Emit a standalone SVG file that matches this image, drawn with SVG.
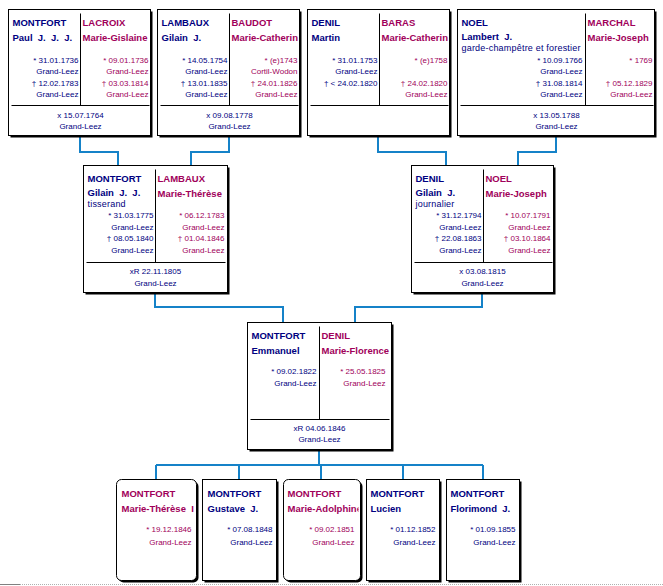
<svg xmlns="http://www.w3.org/2000/svg" width="663" height="586" viewBox="0 0 663 586">
<style>
.sh{fill:#000}
.bx{fill:#fff;stroke:#000;stroke-width:1}
.ln{stroke:#000;stroke-width:1;fill:none}
.m{fill:#000080}
.f{fill:#a0005a}
.n{font-family:"Liberation Sans",Arial,sans-serif;font-weight:bold;font-size:9.5px}
.o{font-family:"Liberation Sans",Arial,sans-serif;font-size:9px;letter-spacing:0.2px}
.d{font-family:"Liberation Sans",Arial,sans-serif;font-size:8px}
.r{text-anchor:end}
.c{text-anchor:middle}
.con{fill:none;stroke:#1582c8;stroke-width:2}
</style>
<defs>
<clipPath id="cl72"><rect x="0" y="0" width="71.5" height="127"/></clipPath>
<clipPath id="cr142"><rect x="72.5" y="0" width="68" height="127"/></clipPath>
<clipPath id="cr144"><rect x="72.5" y="0" width="70" height="127"/></clipPath>
<clipPath id="cl128"><rect x="0" y="0" width="127.5" height="127"/></clipPath>
<clipPath id="cr197"><rect x="128.5" y="0" width="67" height="127"/></clipPath>
<clipPath id="cc80"><rect x="0" y="0" width="78" height="101"/></clipPath>
<clipPath id="cc74"><rect x="0" y="0" width="72" height="101"/></clipPath>
<clipPath id="cc77"><rect x="0" y="0" width="75" height="101"/></clipPath>
<clipPath id="cc73"><rect x="0" y="0" width="71" height="101"/></clipPath>
</defs>

<g id="connectors">
<path class="con" d="M80,137 V152 H118 V165"/>
<path class="con" d="M229,137 V152 H191 V165"/>
<path class="con" d="M378,137 V152 H446 V165"/>
<path class="con" d="M556,137 V152 H518 V165"/>
<path class="con" d="M155,294 V307 H283 V322"/>
<path class="con" d="M482,294 V307 H355 V322"/>
<path class="con" d="M319,451 V465"/>
<path class="con" d="M156,465 H483"/>
<path class="con" d="M156,465 V479 M239,465 V479 M321,465 V479 M403,465 V479 M483,465 V479"/>
</g>

<g id="couple-montfort-lacroix" transform="translate(8.5,9.5)">
<rect class="sh" x="2" y="2" width="142" height="126"/>
<rect class="bx" x="0" y="0" width="142" height="126"/>
<line class="ln" x1="72" y1="4" x2="72" y2="96"/>
<line class="ln" x1="3" y1="96" x2="141" y2="96"/>
<g clip-path="url(#cl72)" class="m">
<text class="n" x="4" y="16.5">MONTFORT</text>
<text class="n" x="4" y="31">Paul&#160; J.&#160; J.&#160; J.</text>
<text class="d r" x="70" y="53">* 31.01.1736</text>
<text class="d r" x="70" y="64.5">Grand-Leez</text>
<text class="d r" x="70" y="76">† 12.02.1783</text>
<text class="d r" x="70" y="87.5">Grand-Leez</text>
</g>
<g clip-path="url(#cr142)" class="f">
<text class="n" x="74" y="16.5">LACROIX</text>
<text class="n" x="74" y="31">Marie-Gislaine</text>
<text class="d r" x="140" y="53">* 09.01.1736</text>
<text class="d r" x="140" y="64.5">Grand-Leez</text>
<text class="d r" x="140" y="76">† 03.03.1814</text>
<text class="d r" x="140" y="87.5">Grand-Leez</text>
</g>
<text class="d c m" x="72" y="108">x 15.07.1764</text>
<text class="d c m" x="72" y="119.5">Grand-Leez</text>
</g>

<g id="couple-lambaux-baudot" transform="translate(157.5,9.5)">
<rect class="sh" x="2" y="2" width="142" height="126"/>
<rect class="bx" x="0" y="0" width="142" height="126"/>
<line class="ln" x1="72" y1="4" x2="72" y2="96"/>
<line class="ln" x1="3" y1="96" x2="141" y2="96"/>
<g clip-path="url(#cl72)" class="m">
<text class="n" x="4" y="16.5">LAMBAUX</text>
<text class="n" x="4" y="31">Gilain&#160; J.</text>
<text class="d r" x="70" y="53">* 14.05.1754</text>
<text class="d r" x="70" y="64.5">Grand-Leez</text>
<text class="d r" x="70" y="76">† 13.01.1835</text>
<text class="d r" x="70" y="87.5">Grand-Leez</text>
</g>
<g clip-path="url(#cr142)" class="f">
<text class="n" x="74" y="16.5">BAUDOT</text>
<text class="n" x="74" y="31">Marie-Catherine</text>
<text class="d r" x="140" y="53">* (e)1743</text>
<text class="d r" x="140" y="64.5">Cortil-Wodon</text>
<text class="d r" x="140" y="76">† 24.01.1826</text>
<text class="d r" x="140" y="87.5">Grand-Leez</text>
</g>
<text class="d c m" x="72" y="108">x 09.08.1778</text>
<text class="d c m" x="72" y="119.5">Grand-Leez</text>
</g>

<g id="couple-denil-baras" transform="translate(307.5,9.5)">
<rect class="sh" x="2" y="2" width="142" height="126"/>
<rect class="bx" x="0" y="0" width="142" height="126"/>
<line class="ln" x1="72" y1="4" x2="72" y2="96"/>
<line class="ln" x1="3" y1="96" x2="141" y2="96"/>
<g clip-path="url(#cl72)" class="m">
<text class="n" x="4" y="16.5">DENIL</text>
<text class="n" x="4" y="31">Martin</text>
<text class="d r" x="70" y="53">* 31.01.1753</text>
<text class="d r" x="70" y="64.5">Grand-Leez</text>
<text class="d r" x="70" y="76">† &lt; 24.02.1820</text>
</g>
<g clip-path="url(#cr142)" class="f">
<text class="n" x="74" y="16.5">BARAS</text>
<text class="n" x="74" y="31">Marie-Catherine</text>
<text class="d r" x="140" y="53">* (e)1758</text>
<text class="d r" x="140" y="76">† 24.02.1820</text>
<text class="d r" x="140" y="87.5">Grand-Leez</text>
</g>
</g>

<g id="couple-noel-marchal" transform="translate(457.5,9.5)">
<rect class="sh" x="2" y="2" width="197" height="126"/>
<rect class="bx" x="0" y="0" width="197" height="126"/>
<line class="ln" x1="128" y1="4" x2="128" y2="96"/>
<line class="ln" x1="3" y1="96" x2="196" y2="96"/>
<g clip-path="url(#cl128)" class="m">
<text class="n" x="4" y="16.5">NOEL</text>
<text class="n" x="4" y="30.5">Lambert&#160; J.</text>
<text class="o" x="4" y="41">garde-champêtre et forestier</text>
<text class="d r" x="125" y="53">* 10.09.1766</text>
<text class="d r" x="125" y="64.5">Grand-Leez</text>
<text class="d r" x="125" y="76">† 31.08.1814</text>
<text class="d r" x="125" y="87.5">Grand-Leez</text>
</g>
<g clip-path="url(#cr197)" class="f">
<text class="n" x="130" y="16.5">MARCHAL</text>
<text class="n" x="130" y="31">Marie-Joseph</text>
<text class="d r" x="195" y="53">* 1769</text>
<text class="d r" x="195" y="76">† 05.12.1829</text>
<text class="d r" x="195" y="87.5">Grand-Leez</text>
</g>
<text class="d c m" x="99" y="108">x 13.05.1788</text>
<text class="d c m" x="99" y="119.5">Grand-Leez</text>
</g>

<g id="couple-montfort-lambaux" transform="translate(83.5,165.5)">
<rect class="sh" x="2" y="2" width="144" height="127"/>
<rect class="bx" x="0" y="0" width="144" height="127"/>
<line class="ln" x1="72" y1="4" x2="72" y2="97"/>
<line class="ln" x1="3" y1="97" x2="142" y2="97"/>
<g clip-path="url(#cl72)" class="m">
<text class="n" x="4" y="16.5">MONTFORT</text>
<text class="n" x="4" y="30.5">Gilain&#160; J.&#160; J.</text>
<text class="o" x="4" y="41">tisserand</text>
<text class="d r" x="70" y="52.5">* 31.03.1775</text>
<text class="d r" x="70" y="64">Grand-Leez</text>
<text class="d r" x="70" y="75.5">† 08.05.1840</text>
<text class="d r" x="70" y="87.5">Grand-Leez</text>
</g>
<g clip-path="url(#cr144)" class="f">
<text class="n" x="74" y="16.5">LAMBAUX</text>
<text class="n" x="74" y="31">Marie-Thérèse</text>
<text class="d r" x="141" y="52.5">* 06.12.1783</text>
<text class="d r" x="141" y="64">Grand-Leez</text>
<text class="d r" x="141" y="75.5">† 01.04.1846</text>
<text class="d r" x="141" y="87.5">Grand-Leez</text>
</g>
<text class="d c m" x="72" y="108">xR 22.11.1805</text>
<text class="d c m" x="72" y="120">Grand-Leez</text>
</g>

<g id="couple-denil-noel" transform="translate(411.5,165.5)">
<rect class="sh" x="2" y="2" width="142" height="127"/>
<rect class="bx" x="0" y="0" width="142" height="127"/>
<line class="ln" x1="72" y1="4" x2="72" y2="97"/>
<line class="ln" x1="3" y1="97" x2="141" y2="97"/>
<g clip-path="url(#cl72)" class="m">
<text class="n" x="4" y="16.5">DENIL</text>
<text class="n" x="4" y="30.5">Gilain&#160; J.</text>
<text class="o" x="4" y="41">journalier</text>
<text class="d r" x="70" y="52.5">* 31.12.1794</text>
<text class="d r" x="70" y="64">Grand-Leez</text>
<text class="d r" x="70" y="75.5">† 22.08.1863</text>
<text class="d r" x="70" y="87.5">Grand-Leez</text>
</g>
<g clip-path="url(#cr142)" class="f">
<text class="n" x="74" y="16.5">NOEL</text>
<text class="n" x="74" y="31">Marie-Joseph</text>
<text class="d r" x="139" y="52.5">* 10.07.1791</text>
<text class="d r" x="139" y="64">Grand-Leez</text>
<text class="d r" x="139" y="75.5">† 03.10.1864</text>
<text class="d r" x="139" y="87.5">Grand-Leez</text>
</g>
<text class="d c m" x="71" y="108">x 03.08.1815</text>
<text class="d c m" x="71" y="120">Grand-Leez</text>
</g>

<g id="couple-montfort-denil" transform="translate(247.5,322.5)">
<rect class="sh" x="2" y="2" width="144" height="127"/>
<rect class="bx" x="0" y="0" width="144" height="127"/>
<line class="ln" x1="72" y1="4" x2="72" y2="97"/>
<line class="ln" x1="3" y1="97" x2="142" y2="97"/>
<g clip-path="url(#cl72)" class="m">
<text class="n" x="4" y="16">MONTFORT</text>
<text class="n" x="4" y="31">Emmanuel</text>
<text class="d r" x="69" y="51.5">* 09.02.1822</text>
<text class="d r" x="69" y="63.5">Grand-Leez</text>
</g>
<g clip-path="url(#cr144)" class="f">
<text class="n" x="74" y="16">DENIL</text>
<text class="n" x="74" y="31">Marie-Florence</text>
<text class="d r" x="138" y="51.5">* 25.05.1825</text>
<text class="d r" x="138" y="63.5">Grand-Leez</text>
</g>
<text class="d c m" x="72" y="108">xR 04.06.1846</text>
<text class="d c m" x="72" y="119.5">Grand-Leez</text>
</g>

<g id="child-marie-therese" transform="translate(116.5,479.5)">
<rect class="sh" x="2" y="2" width="80" height="101" rx="5"/>
<rect class="bx" x="0" y="0" width="80" height="101" rx="5"/>
<g clip-path="url(#cc80)" class="f">
<text class="n" x="5" y="17">MONTFORT</text>
<text class="n" x="5" y="32">Marie-Thérèse&#160; I</text>
<text class="d r" x="75" y="52">* 19.12.1846</text>
<text class="d r" x="75" y="65">Grand-Leez</text>
</g>
</g>

<g id="child-gustave" transform="translate(202.5,479.5)">
<rect class="sh" x="2" y="2" width="74" height="101"/>
<rect class="bx" x="0" y="0" width="74" height="101"/>
<g clip-path="url(#cc74)" class="m">
<text class="n" x="5" y="17">MONTFORT</text>
<text class="n" x="5" y="32">Gustave&#160; J.</text>
<text class="d r" x="70" y="52">* 07.08.1848</text>
<text class="d r" x="70" y="65">Grand-Leez</text>
</g>
</g>

<g id="child-marie-adolphine" transform="translate(283.5,479.5)">
<rect class="sh" x="2" y="2" width="77" height="101" rx="5"/>
<rect class="bx" x="0" y="0" width="77" height="101" rx="5"/>
<g clip-path="url(#cc77)" class="f">
<text class="n" x="4" y="17">MONTFORT</text>
<text class="n" x="4" y="32">Marie-Adolphine</text>
<text class="d r" x="71" y="52">* 09.02.1851</text>
<text class="d r" x="71" y="65">Grand-Leez</text>
</g>
</g>

<g id="child-lucien" transform="translate(366.5,479.5)">
<rect class="sh" x="2" y="2" width="73" height="101"/>
<rect class="bx" x="0" y="0" width="73" height="101"/>
<g clip-path="url(#cc73)" class="m">
<text class="n" x="4" y="17">MONTFORT</text>
<text class="n" x="4" y="32">Lucien</text>
<text class="d r" x="69" y="52">* 01.12.1852</text>
<text class="d r" x="69" y="65">Grand-Leez</text>
</g>
</g>

<g id="child-florimond" transform="translate(446.5,479.5)">
<rect class="sh" x="2" y="2" width="73" height="101"/>
<rect class="bx" x="0" y="0" width="73" height="101"/>
<g clip-path="url(#cc73)" class="m">
<text class="n" x="4" y="17">MONTFORT</text>
<text class="n" x="4" y="32">Florimond&#160; J.</text>
<text class="d r" x="69" y="52">* 01.09.1855</text>
<text class="d r" x="69" y="65">Grand-Leez</text>
</g>
</g>

<line x1="0" y1="584.5" x2="663" y2="584.5" stroke="#b0b0b0" stroke-width="1" stroke-dasharray="1,1"/>
<line x1="0" y1="584.5" x2="20" y2="584.5" stroke="#808080" stroke-width="1"/>
</svg>
